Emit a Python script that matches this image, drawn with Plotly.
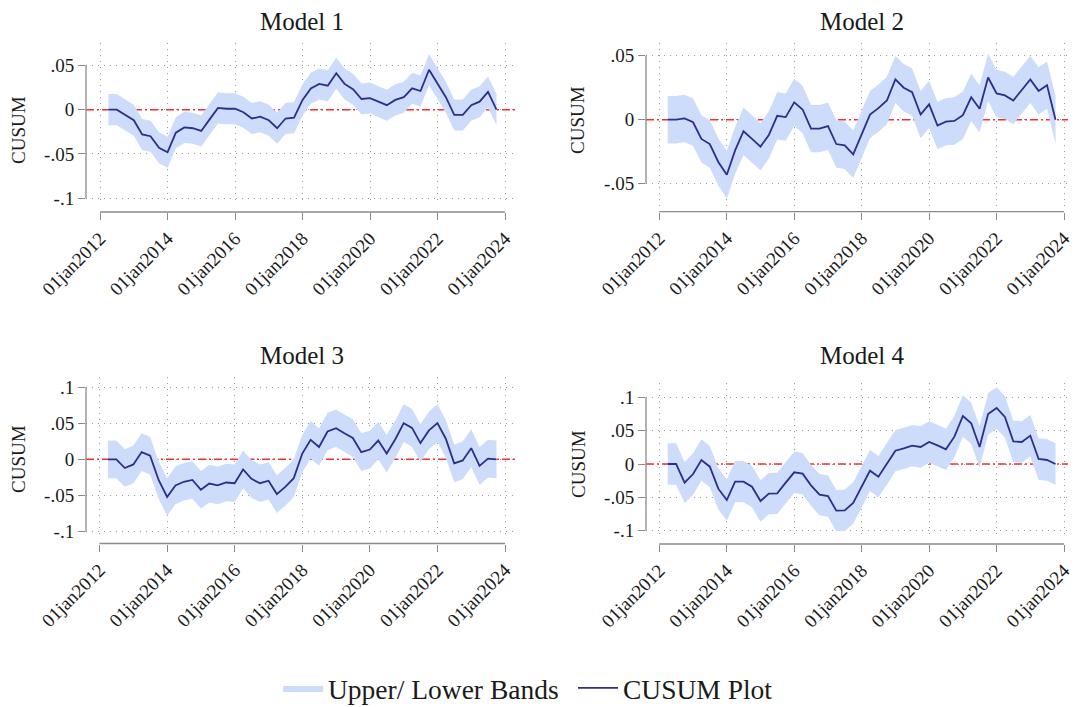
import pandas as pd
import plotly.graph_objects as go

# ---------------- data ----------------
QUARTERS = pd.date_range("2012-04-01", "2023-10-01", freq="QS")

CUSUM_M1 = [0, 0, -0.006, -0.012, -0.028, -0.030, -0.043, -0.048, -0.026, -0.020,
            -0.021, -0.024, -0.011, 0.002, 0.001, 0.001, -0.003, -0.010, -0.008, -0.012,
            -0.021, -0.010, -0.009, 0.011, 0.024, 0.029, 0.027, 0.041, 0.029, 0.023,
            0.012, 0.013, 0.009, 0.005, 0.011, 0.014, 0.024, 0.021, 0.045, 0.030,
            0.014, -0.006, -0.006, 0.005, 0.009, 0.020, 0]
CUSUM_M2 = [0, 0, 0.001, -0.002, -0.015, -0.019, -0.033, -0.043, -0.024, -0.009,
            -0.015, -0.021, -0.012, 0.003, 0.002, 0.0135, 0.008, -0.007, -0.007, -0.005,
            -0.019, -0.020, -0.027, -0.012, 0.004, 0.009, 0.015, 0.0315, 0.025, 0.0215,
            0.004, 0.012, -0.0045, -0.0015, -0.001, 0.0035, 0.0175, 0.0085, 0.033, 0.0205,
            0.019, 0.015, 0.023, 0.0315, 0.0225, 0.027, 0]
CUSUM_M3 = [0, 0, -0.012, -0.007, 0.010, 0.005, -0.0285, -0.052, -0.036, -0.031,
            -0.0285, -0.042, -0.0335, -0.036, -0.032, -0.033, -0.014, -0.027, -0.033, -0.0295,
            -0.048, -0.038, -0.026, 0.008, 0.027, 0.017, 0.0385, 0.043, 0.036, 0.0295,
            0.010, 0.0135, 0.026, 0.008, 0.0275, 0.050, 0.0435, 0.0225, 0.040, 0.050,
            0.0285, -0.0055, -0.0015, 0.0155, -0.009, 0.001, 0]
CUSUM_M4 = [0, 0, -0.028, -0.015, 0.006, -0.004, -0.037, -0.054, -0.0265, -0.0265,
            -0.034, -0.0555, -0.0445, -0.044, -0.028, -0.0125, -0.0145, -0.032, -0.046, -0.048,
            -0.070, -0.0695, -0.0585, -0.033, -0.010, -0.019, 0.0, 0.020, 0.0235, 0.0275,
            0.0255, 0.033, 0.028, 0.022, 0.041, 0.072, 0.061, 0.0255, 0.075, 0.084,
            0.0705, 0.034, 0.033, 0.0425, 0.0075, 0.006, 0]

# half-width of the shaded band around each CUSUM line
BAND_M1 = 0.0175
BAND_M2 = 0.0185
BAND_M3 = 0.026
BAND_M4 = 0.031

MODEL_TITLES = ["Model 1", "Model 2", "Model 3", "Model 4"]

X_TICK_DATES = ["2012-01-01", "2014-01-01", "2016-01-01", "2018-01-01",
                "2020-01-01", "2022-01-01", "2024-01-01"]
X_TICK_LABELS = ["01jan2012", "01jan2014", "01jan2016", "01jan2018",
                 "01jan2020", "01jan2022", "01jan2024"]

Y_TICKS_M1 = [-0.1, -0.05, 0, 0.05]
Y_LABELS_M1 = ["-.1", "-.05", "0", ".05"]
Y_TICKS_M2 = [-0.05, 0, 0.05]
Y_LABELS_M2 = ["-.05", "0", ".05"]
Y_TICKS_M34 = [-0.1, -0.05, 0, 0.05, 0.1]
Y_LABELS_M34 = ["-.1", "-.05", "0", ".05", ".1"]

# ---------------- style / layout ----------------
W, H = 1080, 707
FONT = "Liberation Serif, DejaVu Serif, serif"
LINE_COLOR = "#2d2d8c"
BAND_COLOR = "#cddcfb"
ZERO_COLOR = "#f03030"
AXIS_COLOR = "#8a8a8a"
GRID_COLOR = "#9a9a9a"
TEXT_COLOR = "#1a1a1a"


def px_x(p):
    return p / W


def px_y(p):
    return 1 - p / H


def lin(p, a_px, a_val, b_px, b_val):
    return a_val + (p - a_px) * (b_val - a_val) / (b_px - a_px)


def date_at(p, p2012, p2024):
    t0 = pd.Timestamp("2012-01-01").value
    t1 = pd.Timestamp("2024-01-01").value
    return pd.Timestamp(int(lin(p, p2012, t0, p2024, t1))).strftime("%Y-%m-%d %H:%M:%S")


PANELS = [
    dict(cusum=CUSUM_M1, band=BAND_M1, yt=Y_TICKS_M1, yl=Y_LABELS_M1,
         xdom=(86, 518), ydom=(43, 205), x12=100, x24=505,
         ya=(65.3, 0.05), yb=(198.3, -0.1), xaxis_y=212, title=(302, 21), ytitle=(18, 130)),
    dict(cusum=CUSUM_M2, band=BAND_M2, yt=Y_TICKS_M2, yl=Y_LABELS_M2,
         xdom=(646, 1068), ydom=(43, 207), x12=659.3, x24=1064,
         ya=(55.7, 0.05), yb=(183.7, -0.05), xaxis_y=211.7, title=(862, 21), ytitle=(578, 120)),
    dict(cusum=CUSUM_M3, band=BAND_M3, yt=Y_TICKS_M34, yl=Y_LABELS_M34,
         xdom=(86, 518), ydom=(377, 537), x12=99.5, x24=505,
         ya=(387, 0.1), yb=(531.7, -0.1), xaxis_y=543.5, title=(302, 355), ytitle=(18, 459)),
    dict(cusum=CUSUM_M4, band=BAND_M4, yt=Y_TICKS_M34, yl=Y_LABELS_M34,
         xdom=(646, 1068), ydom=(383, 537), x12=659.3, x24=1064,
         ya=(397.3, 0.1), yb=(530.7, -0.1), xaxis_y=544, title=(862, 355), ytitle=(578, 464)),
]

fig = go.Figure()
shapes = []
annotations = []
layout_axes = {}

for i, pnl in enumerate(PANELS):
    k = "" if i == 0 else str(i + 1)
    xr, yr = "x" + k, "y" + k
    upper = [v + pnl["band"] for v in pnl["cusum"]]
    lower = [v - pnl["band"] for v in pnl["cusum"]]
    xs = list(QUARTERS)
    fig.add_trace(go.Scatter(
        x=xs + xs[::-1], y=upper + lower[::-1], fill="toself", fillcolor=BAND_COLOR,
        line=dict(width=0), mode="lines", name="Upper/ Lower Bands",
        legendgroup="band", showlegend=(i == 0), hoverinfo="skip",
        xaxis=xr, yaxis=yr))
    fig.add_trace(go.Scatter(
        x=xs, y=pnl["cusum"], mode="lines", line=dict(color=LINE_COLOR, width=1.8),
        name="CUSUM Plot", legendgroup="cusum", showlegend=(i == 0),
        xaxis=xr, yaxis=yr))

    x0p, x1p = pnl["xdom"]
    ytop, ybot = pnl["ydom"]
    xrange = [date_at(x0p, pnl["x12"], pnl["x24"]), date_at(x1p, pnl["x12"], pnl["x24"])]
    yrange = [lin(ybot, *pnl["ya"], *pnl["yb"]), lin(ytop, *pnl["ya"], *pnl["yb"])]

    layout_axes["xaxis" + k] = dict(
        domain=[px_x(x0p), px_x(x1p)], range=xrange, type="date",
        anchor="free", position=px_y(pnl["xaxis_y"]),
        tickvals=X_TICK_DATES, ticktext=X_TICK_LABELS, tickangle=-45,
        ticks="outside", ticklen=7, tickwidth=1.3, tickcolor=AXIS_COLOR,
        showline=False, zeroline=False,
        showgrid=True, gridcolor=GRID_COLOR, griddash="1px,5px", gridwidth=1,
        tickfont=dict(family=FONT, size=19, color=TEXT_COLOR), fixedrange=True)
    layout_axes["yaxis" + k] = dict(
        domain=[px_y(ybot), px_y(ytop)], range=yrange, anchor=xr,
        tickvals=pnl["yt"], ticktext=pnl["yl"],
        ticks="outside", ticklen=7, tickwidth=1.3, tickcolor=AXIS_COLOR,
        showline=False, zeroline=False,
        showgrid=True, gridcolor=GRID_COLOR, griddash="1px,5px", gridwidth=1,
        tickfont=dict(family=FONT, size=19, color=TEXT_COLOR), fixedrange=True)

    # axis lines (Stata style: detached, spanning only the tick range)
    shapes.append(dict(type="line", xref="paper", yref="paper", layer="above",
                       x0=px_x(pnl["x12"]), x1=px_x(pnl["x24"]),
                       y0=px_y(pnl["xaxis_y"]), y1=px_y(pnl["xaxis_y"]),
                       line=dict(color=AXIS_COLOR, width=1.3)))
    shapes.append(dict(type="line", xref="paper", yref="paper", layer="above",
                       x0=px_x(x0p), x1=px_x(x0p),
                       y0=px_y(lin(min(pnl["yt"]), pnl["ya"][1], pnl["ya"][0], pnl["yb"][1], pnl["yb"][0])),
                       y1=px_y(lin(max(pnl["yt"]), pnl["ya"][1], pnl["ya"][0], pnl["yb"][1], pnl["yb"][0])),
                       line=dict(color=AXIS_COLOR, width=1.3)))
    # zero reference line (between gridlines and data)
    shapes.append(dict(type="line", xref=xr, yref=yr, x0=xrange[0], x1=xrange[1], y0=0, y1=0,
                       layer="between",
                       line=dict(color=ZERO_COLOR, width=1.5, dash="8px,3px,2px,3px")))

    annotations.append(dict(text=MODEL_TITLES[i], xref="paper", yref="paper",
                            x=px_x(pnl["title"][0]), y=px_y(pnl["title"][1]),
                            xanchor="center", yanchor="middle", showarrow=False,
                            font=dict(family=FONT, size=25, color=TEXT_COLOR)))
    annotations.append(dict(text="CUSUM", xref="paper", yref="paper",
                            x=px_x(pnl["ytitle"][0]), y=px_y(pnl["ytitle"][1]),
                            xanchor="center", yanchor="middle", textangle=-90,
                            showarrow=False,
                            font=dict(family=FONT, size=19, color=TEXT_COLOR)))

fig.update_layout(
    width=W, height=H,
    margin=dict(l=0, r=0, t=0, b=0, autoexpand=False),
    paper_bgcolor="white", plot_bgcolor="white",
    font=dict(family=FONT, color=TEXT_COLOR),
    shapes=shapes, annotations=annotations,
    showlegend=True,
    legend=dict(orientation="h", x=px_x(278), xanchor="left", y=px_y(688), yanchor="middle",
                font=dict(family=FONT, size=27.5, color=TEXT_COLOR),
                itemwidth=40, entrywidth=240, entrywidthmode="pixels",
                bgcolor="rgba(0,0,0,0)", traceorder="normal"),
    **layout_axes,
)

fig.write_html("out.html", config={"displayModeBar": False},
               post_script="document.body.style.margin='0';document.body.style.padding='0';")
